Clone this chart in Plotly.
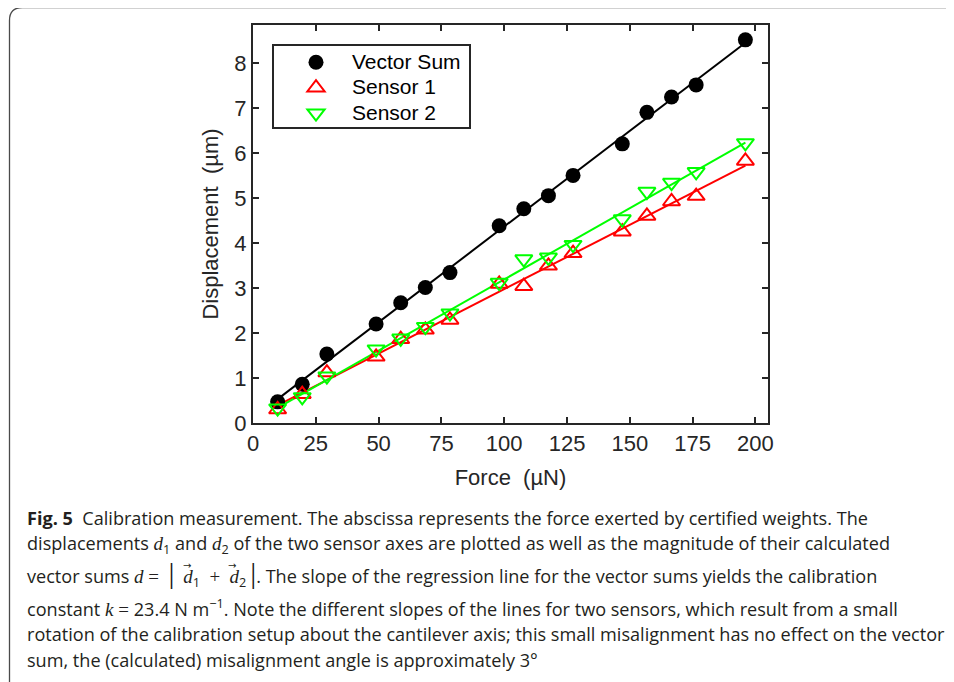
import numpy as np
import plotly.graph_objects as go

# ---- data ----
force = [9.8, 19.6, 29.4, 49.0, 58.8, 68.6, 78.4, 98.0, 107.8, 117.6, 127.4, 147.0, 156.8, 166.6, 176.4, 196.0]
vector_sum = [0.47, 0.86, 1.53, 2.20, 2.67, 3.01, 3.34, 4.38, 4.76, 5.05, 5.50, 6.20, 6.90, 7.24, 7.51, 8.51]
sensor1 = [0.30, 0.64, 1.12, 1.47, 1.86, 2.07, 2.29, 3.09, 3.04, 3.49, 3.77, 4.25, 4.60, 4.92, 5.04, 5.82]
sensor2 = [0.33, 0.58, 1.04, 1.64, 1.88, 2.14, 2.44, 3.12, 3.64, 3.68, 3.96, 4.53, 5.14, 5.34, 5.58, 6.22]
series_names = ["Vector Sum", "Sensor 1", "Sensor 2"]
x_ticks = [0, 25, 50, 75, 100, 125, 150, 175, 200]
y_ticks = [0, 1, 2, 3, 4, 5, 6, 7, 8]

MATH = "font-family:'Liberation Serif', serif;font-size:19px"
BAR = "font-family:'Liberation Serif';font-size:30px"
SP = "\u2009"  # thin space
caption_lines = [
    "<b>Fig. 5</b>  Calibration measurement. The abscissa represents the force exerted by certified weights. The",
    f"displacements <span style=\"{MATH}\"><i>d</i></span><sub>1</sub> and <span style=\"{MATH}\"><i>d</i></span><sub>2</sub> of the two sensor axes are plotted as well as the magnitude of their calculated",
    (f"vector sums <span style=\"{MATH}\"><i>d</i> =  </span><span style=\"{BAR}\">|</span>"
     f"<span style=\"{MATH}\">{SP} <i>d</i></span><sub>1</sub><span style=\"{MATH}\">  +  <i>d</i></span><sub>2</sub>"
     f"<span style=\"{MATH}\">{SP}</span><span style=\"{BAR}\">|</span>. The slope of the regression line for the vector sums yields the calibration"),
    f"constant <span style=\"{MATH}\"><i>k</i> = </span>23.4 N m<sup>\u22121</sup>. Note the different slopes of the lines for two sensors, which result from a small",
    "rotation of the calibration setup about the cantilever axis; this small misalignment has no effect on the vector",
    "sum, the (calculated) misalignment angle is approximately 3°",
]
vector_arrow_x = [187, 232]   # pixel x of the arrows over the vector symbols

# ---- layout geometry: reference pixel coords; the page puts the figure at (8, 8) ----
OFF = 8
W, H = 954 - OFF, 682 - OFF
L, R, T, B = 253, 768, 25, 423


def px(xp):
    return (xp - L) / (R - L)


def py(yp):
    return (B - yp) / (B - T)


AX = "#262626"
colors = ["#000000", "#FF0000", "#00FF00"]
symbols = ["circle", "triangle-up", "triangle-down"]
values = [vector_sum, sensor1, sensor2]

fig = go.Figure()

for vals, c in zip(values, colors):
    k, d = np.polyfit(force, vals, 1)
    xs = [force[0], force[-1]]
    fig.add_trace(go.Scatter(x=xs, y=[k * xv + d for xv in xs], mode="lines",
                             line=dict(color=c, width=2), showlegend=False, hoverinfo="skip"))

for name, vals, c, s in zip(series_names, values, colors, symbols):
    if s == "circle":
        marker = dict(symbol=s, size=15, color=c, line=dict(width=0))
    else:
        marker = dict(symbol=s + "-open", size=15, color=c, line=dict(width=2, color=c))
    fig.add_trace(go.Scatter(x=force, y=vals, mode="markers",
                             name=f"<span style='font-size:21px'>{name}</span>", marker=marker))

axis_common = dict(showline=True, linecolor=AX, linewidth=2, mirror="ticks", ticks="inside",
                   ticklen=6, tickwidth=2, tickcolor=AX, showgrid=False, zeroline=False,
                   tickfont=dict(family="Liberation Sans, Arial", size=22, color=AX))

fig.update_xaxes(range=[0, 205], tickvals=x_ticks,
                 title=dict(text="Force  (µN)", font=dict(family="Liberation Sans, Arial", size=22, color=AX), standoff=14),
                 **axis_common)
fig.update_yaxes(range=[0, 8.84], tickvals=y_ticks,
                 title=dict(text="Displacement  (µm)", font=dict(family="Liberation Sans, Arial", size=22, color=AX), standoff=10),
                 **axis_common)

# frame around the figure (rounded top-left corner)
r = 13
fx0, fy0 = 9.5, 7.5
frame_path = (f"M {px(fx0)} {py(690)} L {px(fx0)} {py(fy0 + r)} "
              f"Q {px(fx0)} {py(fy0)} {px(fx0 + r)} {py(fy0)} L {px(960)} {py(fy0)}")

shapes = [
    dict(type="path", path=frame_path, xref="paper", yref="paper",
         line=dict(color="#4a4a4a", width=1.3), layer="above"),
    dict(type="rect", x0=px(273), x1=px(470), y0=py(45), y1=py(128), xref="paper", yref="paper",
         line=dict(color=AX, width=2), fillcolor="white", layer="below"),
]

annotations = []
line_y = [518, 544, 573, 607, 634, 660]
for txt, yc in zip(caption_lines, line_y):
    annotations.append(dict(text=txt, x=px(25), y=py(yc), xref="paper", yref="paper",
                            xanchor="left", yanchor="middle", showarrow=False, align="left",
                            font=dict(family="Open Sans", size=18.1, color="#231f20")))
for ax_ in vector_arrow_x:
    annotations.append(dict(text="\u2192", x=px(ax_), y=py(565), xref="paper", yref="paper",
                            xanchor="center", yanchor="middle", showarrow=False,
                            font=dict(family="DejaVu Sans", size=10, color="#231f20")))

fig.update_layout(
    width=W, height=H,
    margin=dict(l=L - OFF, r=954 - R, t=T - OFF, b=682 - B, autoexpand=False),
    paper_bgcolor="white", plot_bgcolor="white",
    showlegend=True,
    legend=dict(x=px(280), y=py(44.5), xanchor="left", yanchor="top",
                bgcolor="rgba(0,0,0,0)", borderwidth=0,
                font=dict(family="Liberation Sans, Arial", size=17.3, color="#000000"),
                itemwidth=62, tracegroupgap=0),
    shapes=shapes,
    annotations=annotations,
)

fig.write_html("out.html")
